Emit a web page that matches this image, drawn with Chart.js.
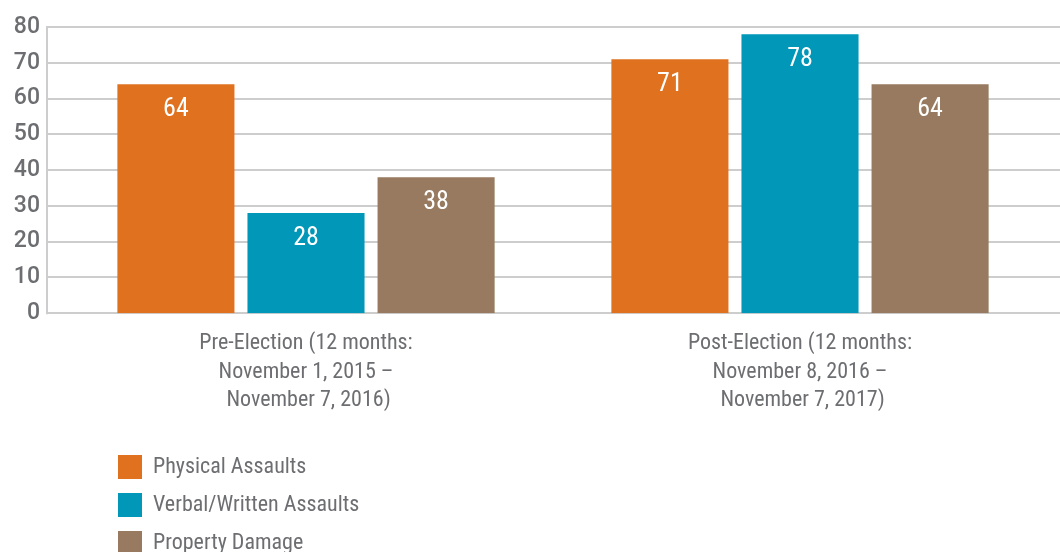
<!DOCTYPE html>
<html>
<head>
<meta charset="utf-8">
<script src="https://cdn.jsdelivr.net/npm/chart.js@4.4.1/dist/chart.umd.min.js"></script>
<style>
html,body{margin:0;padding:0;background:#fff;}
#wrap{width:1060px;height:552px;position:relative;}
</style>
</head>
<body>
<div id="wrap"><canvas id="c" width="1060" height="552"></canvas></div>
<script>
const categories = [
  ['Pre-Election (12 months:', 'November 1, 2015 –', ' November 7, 2016)'],
  ['Post-Election (12 months:', 'November 8, 2016 –', ' November 7, 2017)']
];
const seriesNames = ['Physical Assaults', 'Verbal/Written Assaults', 'Property Damage'];
const physical = [64, 71];
const verbal = [28, 78];
const property = [38, 64];
const yTicks = [0, 10, 20, 30, 40, 50, 60, 70, 80];
const colors = ['#df711f', '#0097b8', '#977a5f'];

const NARROW = '"Liberation Sans Narrow", "Arial Narrow", "Roboto Condensed", "Liberation Sans", sans-serif';
const SANS = 'Roboto, "Liberation Sans", Arial, sans-serif';
const GRAY = '#6d6e71';

const gridPlugin = {
  id: 'customGrid',
  beforeDatasetsDraw(chart) {
    const {ctx} = chart;
    const y = chart.scales.y;
    const left = 47, right = 1060;
    ctx.save();
    ctx.strokeStyle = '#cdcdcd';
    ctx.lineWidth = 2;
    yTicks.forEach(v => {
      const py = Math.round(y.getPixelForValue(v));
      ctx.beginPath();
      ctx.moveTo(left, py);
      ctx.lineTo(right, py);
      ctx.stroke();
    });
    ctx.beginPath();
    ctx.moveTo(left, y.getPixelForValue(80) - 1);
    ctx.lineTo(left, y.getPixelForValue(0) + 1);
    ctx.stroke();
    ctx.restore();
  }
};

const labelPlugin = {
  id: 'barLabels',
  afterDatasetsDraw(chart) {
    const {ctx} = chart;
    ctx.save();
    ctx.fillStyle = '#ffffff';
    ctx.font = '26px ' + NARROW;
    ctx.textAlign = 'center';
    ctx.textBaseline = 'middle';
    chart.data.datasets.forEach((ds, i) => {
      const meta = chart.getDatasetMeta(i);
      meta.data.forEach((el, j) => {
        ctx.fillText(String(ds.data[j]), el.x, el.y + 25);
      });
    });
    ctx.restore();
  }
};

const legendPlugin = {
  id: 'vLegend',
  afterDraw(chart) {
    const {ctx} = chart;
    ctx.save();
    ctx.font = '22px ' + NARROW;
    ctx.textBaseline = 'middle';
    ctx.textAlign = 'left';
    chart.data.datasets.forEach((ds, i) => {
      const top = 455 + i * 38;
      ctx.fillStyle = ds.backgroundColor;
      ctx.fillRect(118, top, 24, 24);
      ctx.fillStyle = GRAY;
      ctx.fillText(ds.label, 153, top + 12);
    });
    ctx.restore();
  }
};

new Chart(document.getElementById('c'), {
  type: 'bar',
  data: {
    labels: categories,
    datasets: [
      {label: seriesNames[0], data: physical, backgroundColor: colors[0]},
      {label: seriesNames[1], data: verbal, backgroundColor: colors[1]},
      {label: seriesNames[2], data: property, backgroundColor: colors[2]}
    ]
  },
  options: {
    responsive: false,
    animation: false,
    devicePixelRatio: 1,
    categoryPercentage: 0.79,
    barPercentage: 0.9,
    layout: {padding: {top: 27, right: 13, bottom: 121, left: 0}},
    plugins: {
      legend: {display: false},
      tooltip: {enabled: false}
    },
    scales: {
      x: {
        grid: {display: false, drawTicks: false},
        border: {display: false},
        ticks: {
          color: GRAY,
          font: {family: NARROW, size: 22, lineHeight: 1.3},
          padding: 16,
          maxRotation: 0,
          autoSkip: false
        }
      },
      y: {
        min: 0, max: 80,
        grid: {display: false, drawTicks: false},
        border: {display: false},
        afterFit(scale) { scale.width = 59; scale.paddingTop = 0; scale.paddingBottom = 0; },
        afterBuildTicks(scale) { scale.ticks = yTicks.map(v => ({value: v})); },
        ticks: {
          color: GRAY,
          font: {family: SANS, size: 23, weight: '500'},
          padding: 19
        }
      }
    }
  },
  plugins: [gridPlugin, labelPlugin, legendPlugin]
});
</script>
</body>
</html>
